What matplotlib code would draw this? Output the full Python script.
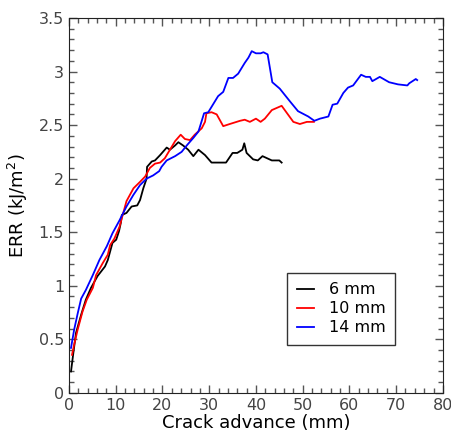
import matplotlib
matplotlib.use('Agg')
import matplotlib.pyplot as plt
from matplotlib.ticker import MultipleLocator

# 6 mm
x6 = [0.43, 0.92, 1.5, 2.6, 3.6, 4.7, 6.1, 7.7, 8.3, 9.3, 10.1, 10.7, 11.1, 11.3, 12.3, 13.4,
      14.6, 15.2, 15.9, 16.6, 16.7, 17.7, 18.4, 19.5, 20.9, 21.6, 22.7, 23.4, 24.4, 25.5, 26.6,
      27.7, 29.1, 30.5, 33.6, 35.0, 36.0, 37.1, 37.5, 38.0, 39.4, 40.4, 41.4, 43.4, 45.0, 45.5]
y6 = [0.20, 0.37, 0.56, 0.73, 0.87, 0.98, 1.09, 1.18, 1.24, 1.40, 1.43, 1.51, 1.59, 1.66, 1.68, 1.74,
      1.75, 1.80, 1.91, 2.00, 2.11, 2.16, 2.17, 2.22, 2.29, 2.27, 2.31, 2.34, 2.31, 2.27, 2.21,
      2.27, 2.22, 2.15, 2.15, 2.24, 2.24, 2.27, 2.33, 2.24, 2.18, 2.17, 2.21, 2.17, 2.17, 2.15]

# 10 mm
x10 = [0.64, 1.1, 1.85, 2.9, 3.8, 5.1, 5.8, 7.2, 8.3, 8.8, 9.7, 10.8, 12.3, 13.8, 15.2, 16.3,
       17.3, 18.4, 19.5, 20.5, 21.6, 22.7, 23.9, 24.8, 25.9, 26.9, 28.4, 29.1, 29.4, 30.5, 31.6,
       33.0, 34.4, 36.6, 37.6, 38.7, 40.0, 41.0, 41.9, 43.4, 45.5, 48.0, 49.4, 50.9, 52.4]
y10 = [0.355, 0.45, 0.59, 0.76, 0.87, 0.98, 1.10, 1.21, 1.29, 1.38, 1.44, 1.55, 1.79, 1.91, 1.97, 2.02,
       2.10, 2.14, 2.15, 2.19, 2.27, 2.35, 2.41, 2.37, 2.36, 2.41, 2.47, 2.53, 2.61, 2.62, 2.60,
       2.49, 2.51, 2.54, 2.55, 2.53, 2.56, 2.53, 2.56, 2.64, 2.68, 2.53, 2.51, 2.53, 2.53]

# 14 mm
x14 = [0.43, 1.1, 1.85, 2.6, 3.6, 5.1, 6.5, 8.1, 9.3, 10.8, 12.3, 13.8, 15.2, 16.6, 18.0, 19.3,
       19.8, 20.9, 22.7, 24.1, 25.2, 26.6, 27.7, 28.9, 29.8, 30.5, 31.9, 33.0, 34.1, 35.1, 36.2,
       37.6, 38.4, 39.1, 40.0, 41.0, 41.6, 42.5, 43.5, 45.1, 47.3, 49.0, 51.2, 52.5, 53.7, 55.5,
       56.4, 57.4, 58.7, 59.7, 60.8, 62.5, 63.5, 64.4, 64.9, 66.5, 68.5, 70.4, 72.4, 72.8, 74.2, 74.5]
y14 = [0.42, 0.59, 0.74, 0.88, 0.96, 1.10, 1.24, 1.37, 1.49, 1.61, 1.74, 1.85, 1.94, 2.00, 2.03, 2.07,
       2.11, 2.17, 2.21, 2.25, 2.31, 2.38, 2.44, 2.61, 2.62, 2.67, 2.77, 2.81, 2.94, 2.94, 2.98,
       3.08, 3.13, 3.19, 3.17, 3.17, 3.18, 3.16, 2.90, 2.84, 2.72, 2.63, 2.58, 2.54, 2.56, 2.58,
       2.69, 2.70, 2.80, 2.85, 2.87, 2.97, 2.95, 2.95, 2.91, 2.95, 2.90, 2.88, 2.87, 2.89, 2.93, 2.92]

fig = plt.figure(figsize=(4.51, 4.38), dpi=100)
ax = fig.add_axes([0.153, 0.103, 0.829, 0.856])

ax.plot(x6, y6, color='black', lw=1.3, label='6 mm')
ax.plot(x10, y10, color='red', lw=1.3, label='10 mm')
ax.plot(x14, y14, color='blue', lw=1.3, label='14 mm')

ax.set_xlim(0, 80)
ax.set_ylim(0, 3.5)
ax.xaxis.set_major_locator(MultipleLocator(10))
ax.xaxis.set_minor_locator(MultipleLocator(2))
ax.yaxis.set_minor_locator(MultipleLocator(0.1))
ax.set_yticks([0, 0.5, 1, 1.5, 2, 2.5, 3, 3.5])
ax.set_yticklabels(['0', '0.5', '1', '1.5', '2', '2.5', '3', '3.5'])

ax.tick_params(which='both', direction='in', top=True, right=True, color='#555555',
               labelcolor='#444444', labelsize=11.5)
ax.tick_params(which='major', length=6, width=1)
ax.tick_params(which='minor', length=3.5, width=1)
for s in ax.spines.values():
    s.set_color('#222222')

ax.set_xlabel('Crack advance (mm)', fontsize=13, labelpad=1)
ax.set_ylabel('ERR (kJ/m$^2$)', fontsize=13, labelpad=6)

leg = ax.legend(loc='lower right', bbox_to_anchor=(0.872, 0.128), borderaxespad=0,
                fontsize=11.5, fancybox=False, edgecolor='black', handlelength=1.1,
                handletextpad=0.9, borderpad=0.6, labelspacing=0.25)
leg.get_frame().set_linewidth(1.0)

fig.savefig('out.png', dpi=100)
